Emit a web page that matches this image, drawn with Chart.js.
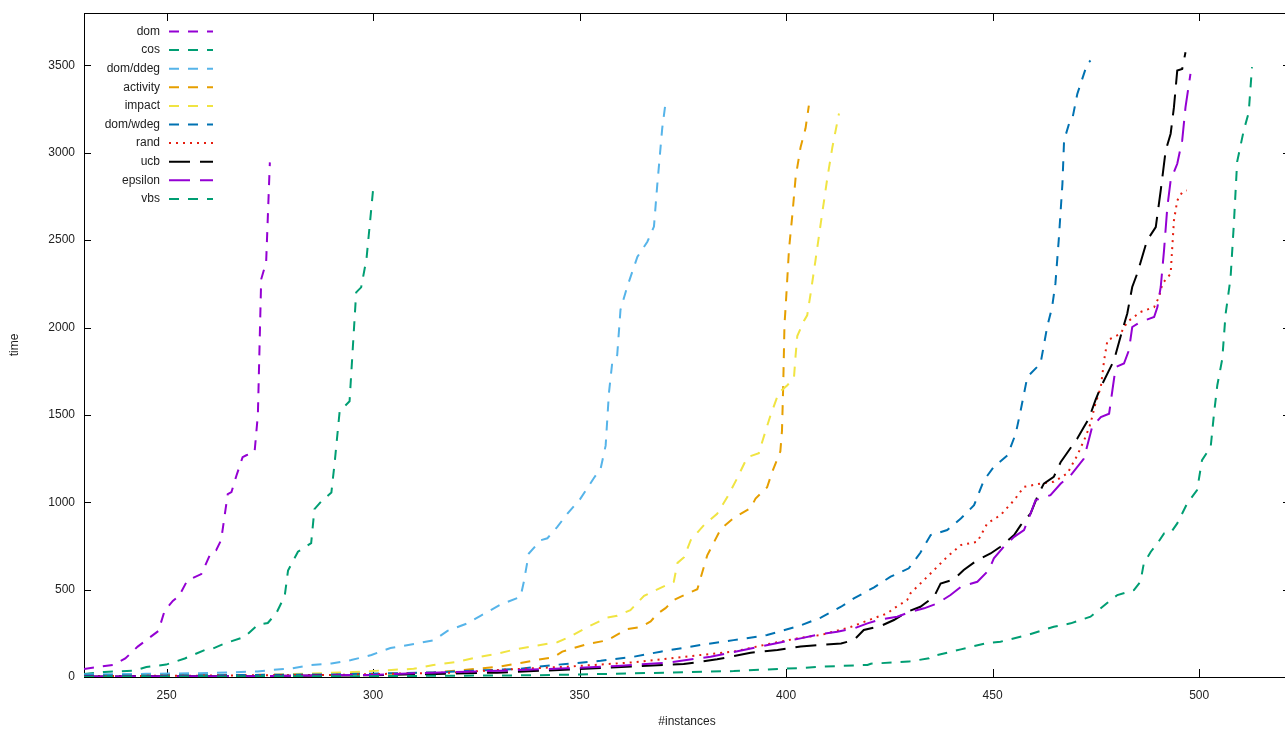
<!DOCTYPE html>
<html>
<head>
<meta charset="utf-8">
<script src="https://cdn.jsdelivr.net/npm/chart.js@4"></script>
<style>
  html, body { margin: 0; padding: 0; background: #fff; overflow: hidden; }
  canvas { display: block; }
</style>
</head>
<body>
<canvas id="chart" width="1292" height="729"></canvas>
<script>
// cactus data: [#instances, time]
const dom = [[230,46],[237,69],[240,106],[243,174],[248,263],[249.5,377],[251.5,435],[253,463],[255,552],[258.4,589],[260.8,715],[262,726],[263.2,783],[264.8,1046],[265.7,1058],[266.9,1152],[268.4,1258],[269.3,1269],[271.3,1287],[272.1,1501],[272.9,2276],[274.1,2373],[275,2945]];
const cos = [[230,17],[235,29],[242.3,37],[245.1,57],[249.9,71],[254.4,106],[259.2,154],[261.1,162],[264,191],[268.9,230],[272.1,299],[274.5,309],[276.6,367],[278.6,464],[279.4,609],[281.8,717],[285,766],[285.8,961],[287.5,1006],[289.9,1056],[290.7,1229],[291.9,1521],[294.3,1578],[295.1,1889],[295.9,2201],[297.1,2230],[298.4,2393],[300,2790]];
const ddeg = [[230,15],[245,18],[258,22],[265,26],[272,32],[275.4,40],[280,48],[285,69],[289.9,77],[294.7,97],[299.6,126],[304.2,166],[309.9,189],[314.7,210],[318,264],[322.8,307],[326,350],[330.9,415],[335.7,459],[336.5,545],[337.7,707],[340.6,783],[342.2,794],[344.6,859],[347,934],[350.2,1021],[353.5,1140],[355.1,1194],[356.3,1324],[357.1,1626],[357.9,1799],[359.1,1842],[359.9,2102],[361.5,2232],[364,2405],[366.4,2491],[368,2578],[368.8,2816],[370,3140],[370.8,3285]];
const activity = [[230,5],[260,8],[290,12],[301.8,17],[314.6,26],[320.4,37],[325.2,47],[330.1,58],[335.7,80],[340.6,102],[343.7,113],[345.8,145],[348.6,166],[351.9,189],[356.7,210],[361.5,274],[364.8,286],[367.2,318],[368.8,361],[370.8,394],[372.8,440],[374.4,459],[378.5,502],[379.3,567],[380.9,696],[384.2,848],[387.4,912],[391.4,967],[392.6,1021],[395.4,1086],[396.6,1172],[398.6,1291],[399,1410],[399.3,1670],[399.6,2016],[399.9,2124],[400.7,2449],[401.5,2643],[402.3,2859],[403.5,3032],[404.7,3140],[405.5,3270]];
const impact = [[230,5],[270,10],[285,20],[295,28],[301.8,37],[309.8,47],[314.6,69],[320.4,86],[325.2,113],[330.1,134],[334.1,156],[338.9,177],[344.6,199],[347.8,232],[351.9,286],[356.7,340],[359.1,350],[362.3,383],[365.6,464],[369.6,510],[372.8,545],[373.7,653],[375.3,686],[376.9,783],[380.1,869],[383.3,934],[385.8,1031],[388.2,1140],[390.6,1258],[393.4,1281],[394.2,1345],[396.2,1496],[398.2,1626],[400.3,1670],[401.9,1713],[402.3,1842],[402.7,1951],[404.3,2037],[405.1,2070],[405.9,2189],[407.1,2383],[408.4,2599],[410,2859],[411.2,3032],[412.8,3225]];
const wdeg = [[230,8],[260,10],[290,15],[301.8,20],[314.6,26],[325.2,37],[335.7,47],[342.2,65],[350.2,82],[355.1,93],[363.1,116],[369.6,145],[379.3,183],[387.3,211],[395.4,240],[403.5,295],[408.4,340],[413.3,402],[416.4,450],[421.3,513],[425.3,574],[429.7,622],[432.5,711],[435,812],[439,841],[442.3,907],[445.5,983],[447.9,1126],[450.3,1203],[453.6,1269],[455.6,1393],[456.8,1527],[458.4,1717],[461.6,1794],[463.2,2003],[464.4,2117],[465.2,2251],[466,2499],[466.9,2823],[467.3,3071],[468.5,3166],[469.3,3194],[470.5,3337],[472.9,3509],[473.7,3528]];
const rand = [[230,5],[260,8],[290,12],[318.8,25],[333.3,44],[347,59],[363.1,84],[379.3,126],[387.3,145],[395.4,187],[403.5,225],[408.4,240],[410,250],[415.6,286],[420.5,330],[424.5,364],[426.1,393],[429.3,440],[430.1,479],[434.2,574],[439,688],[442.3,755],[446.3,774],[448.7,879],[451.9,926],[455.2,1012],[457.6,1088],[461.6,1107],[464.8,1117],[468.1,1165],[470.5,1269],[472.5,1374],[473.7,1451],[474.9,1565],[476.2,1660],[477,1813],[477.8,1927],[479.4,1946],[481,1965],[482.6,2032],[485.8,2089],[489.1,2117],[490.3,2175],[491.1,2251],[493.1,2308],[493.5,2461],[493.9,2613],[494.7,2727],[495.9,2775],[497,2785]];
const ucb = [[230,3],[270,5],[300,10],[330,25],[350,45],[375.2,74],[383.3,101],[391.4,139],[397.9,154],[403.5,175],[408.4,183],[413.3,192],[416.4,211],[418.8,269],[422.9,292],[426.1,326],[429.3,373],[432.5,402],[435.8,459],[437.4,535],[440.6,558],[443,612],[446.3,669],[449.5,707],[451.9,745],[455.2,812],[456.8,869],[459.2,936],[460.8,1031],[462.4,1107],[464.8,1145],[466.5,1231],[470.5,1365],[472.1,1431],[473.3,1479],[474.9,1584],[476.2,1660],[479.4,1813],[481.4,1984],[482.6,2080],[483.8,2232],[485,2308],[487.4,2499],[489.5,2575],[490.7,2785],[491.9,3013],[493.1,3109],[493.9,3261],[494.7,3471],[495.9,3480],[496.7,3575]];
const epsilon = [[230,3],[270,5],[300,12],[314.6,25],[330.9,36],[347,50],[359.1,63],[371.2,82],[381.7,116],[389.7,154],[399.4,202],[403.5,221],[408.4,246],[412.4,259],[416.4,278],[419.7,307],[422.9,330],[426.9,345],[430.1,373],[433.4,393],[436.6,421],[439.8,469],[442.3,516],[446.3,545],[449.1,612],[450.3,679],[452.7,745],[455.2,802],[457.6,841],[459.2,936],[460.4,1012],[464,1041],[466.5,1107],[468.9,1155],[472.1,1250],[474.1,1431],[476.2,1488],[478.2,1507],[479,1641],[479.8,1774],[481.8,1794],[483,1870],[483.8,2003],[485.8,2032],[489.1,2060],[489.9,2117],[490.7,2232],[491.5,2442],[492.3,2690],[493.1,2842],[494.7,2937],[495.9,3071],[496.7,3261],[497.9,3452]];
const vbs = [[230,2],[300,5],[340,10],[355.1,17],[371.2,25],[387.3,34],[399.4,48],[404.2,52],[408.4,59],[419.7,69],[420.5,76],[429.7,88],[434.6,107],[435,116],[439,139],[442.3,158],[448.7,195],[451.9,202],[458.4,240],[464.8,288],[468.9,307],[473.7,345],[477.8,425],[480.2,469],[484.2,497],[485.8,545],[486.6,650],[488.3,717],[489.9,764],[491.5,821],[493.1,825],[494.7,879],[497.1,993],[499.5,1069],[500.3,1184],[500.7,1241],[502.8,1317],[503.6,1507],[504.4,1670],[505.6,1820],[506.4,2076],[507.6,2281],[508.4,2590],[509.2,2948],[510.8,3128],[512,3230],[512.8,3490]];

const names = ["dom", "cos", "dom/ddeg", "activity", "impact", "dom/wdeg", "rand", "ucb", "epsilon", "vbs"];
const seriesData = [dom, cos, ddeg, activity, impact, wdeg, rand, ucb, epsilon, vbs];
const colors = ["#9400d3", "#009e73", "#56b4e9", "#e69f00", "#f0e442", "#0072b2", "#e51e10", "#000000", "#9400d3", "#009e73"];
const dashes = [[10,9], [10,9], [10,9], [10,9], [10,9], [10,9], [2,5], [21,10], [21,10], [10,9]];

const xTicks = [250, 300, 350, 400, 450, 500];
const yTicks = [0, 500, 1000, 1500, 2000, 2500, 3000, 3500];

const FONT = "'Liberation Sans', Arial, sans-serif";

// gnuplot style border with inward ticks on all four sides
const framePlugin = {
    id: "frame",
    beforeDatasetsDraw(chart) {
        const { ctx, chartArea: a, scales: { x, y } } = chart;
        ctx.save();
        ctx.strokeStyle = "#000";
        ctx.lineWidth = 1;
        ctx.strokeRect(a.left + 0.5, a.top + 0.5, a.right - a.left, a.bottom - a.top);
        ctx.beginPath();
        xTicks.forEach((v) => {
            const px = Math.round(x.getPixelForValue(v)) + 0.5;
            ctx.moveTo(px, a.bottom); ctx.lineTo(px, a.bottom - 8);
            ctx.moveTo(px, a.top); ctx.lineTo(px, a.top + 8);
        });
        yTicks.forEach((v) => {
            const py = Math.round(y.getPixelForValue(v)) + 0.5;
            ctx.moveTo(a.left, py); ctx.lineTo(a.left + 7, py);
            ctx.moveTo(a.right, py); ctx.lineTo(a.right - 7, py);
        });
        ctx.stroke();
        ctx.restore();
    }
};

// key in the top-left corner: label right-aligned, sample on its right
const keyPlugin = {
    id: "key",
    afterDraw(chart) {
        const { ctx } = chart;
        ctx.save();
        ctx.font = "12px " + FONT;
        ctx.textAlign = "right";
        ctx.textBaseline = "middle";
        chart.data.datasets.forEach((ds, i) => {
            const yy = 31.5 + i * 18.6;
            ctx.fillStyle = "#222";
            ctx.fillText(ds.label, 160, yy);
            ctx.beginPath();
            ctx.strokeStyle = ds.borderColor;
            ctx.lineWidth = 2;
            ctx.setLineDash(ds.borderDash);
            ctx.moveTo(169, yy);
            ctx.lineTo(213, yy);
            ctx.stroke();
        });
        ctx.restore();
    }
};

const datasets = names.map((name, i) => ({
    label: name,
    data: seriesData[i].map((p) => ({ x: p[0], y: p[1] })),
    borderColor: colors[i],
    borderDash: dashes[i],
    borderWidth: 2,
    pointRadius: 0,
    tension: 0,
    fill: false,
    order: names.length - i
}));

new Chart(document.getElementById("chart"), {
    type: "line",
    data: { datasets },
    plugins: [framePlugin, keyPlugin],
    options: {
        responsive: false,
        animation: false,
        devicePixelRatio: 1,
        layout: { padding: { top: 13, right: 2, left: 0, bottom: 0 } },
        plugins: { legend: { display: false }, tooltip: { enabled: false } },
        scales: {
            x: {
                type: "linear",
                min: 230,
                max: 522,
                afterBuildTicks: (axis) => { axis.ticks = xTicks.map((v) => ({ value: v })); },
                afterFit: (axis) => { axis.height = 52; axis.paddingLeft = 0; axis.paddingRight = 0; },
                grid: { display: false, drawTicks: false },
                border: { display: false },
                ticks: { padding: 11, color: "#222", font: { family: FONT, size: 12 }, maxRotation: 0, callback: (v) => String(v) },
                title: { display: true, text: "#instances", color: "#222", font: { family: FONT, size: 12 }, padding: { top: 0, bottom: 0 } }
            },
            y: {
                type: "linear",
                min: 0,
                max: 3800,
                afterBuildTicks: (axis) => { axis.ticks = yTicks.map((v) => ({ value: v })); },
                afterFit: (axis) => { axis.width = 84; axis.paddingTop = 0; axis.paddingBottom = 0; },
                grid: { display: false, drawTicks: false },
                border: { display: false },
                ticks: { padding: 9, color: "#222", font: { family: FONT, size: 12 }, callback: (v) => String(v) },
                title: { display: true, text: "time", color: "#222", font: { family: FONT, size: 12 }, padding: { top: 7, bottom: 0 } }
            }
        }
    }
});
</script>
</body>
</html>
